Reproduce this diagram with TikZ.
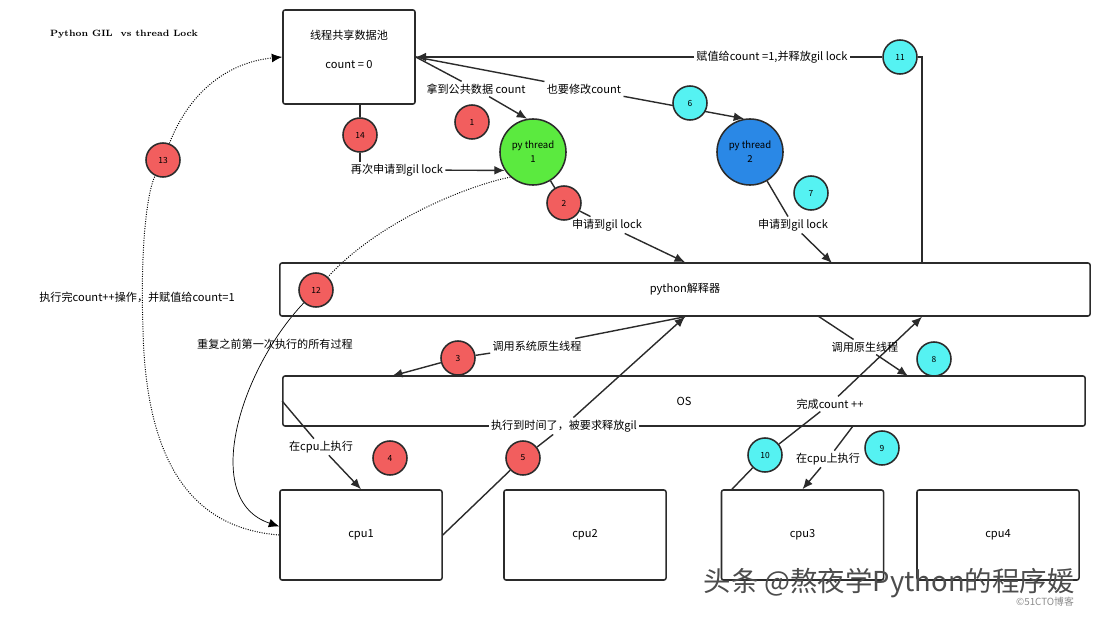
\documentclass[tikz,border=0pt]{standalone}
\usepackage{fontspec}
\newfontfamily\cjk{Noto Sans CJK SC}
\usetikzlibrary{arrows.meta}
\pgfdeclarelayer{back}
\pgfsetlayers{back,main}
\definecolor{stepred}{HTML}{F25E5E}
\definecolor{stepcyan}{HTML}{55F2F2}
\definecolor{thrgreen}{HTML}{5BEA3F}
\definecolor{thrblue}{HTML}{2A88E6}
\definecolor{edge}{HTML}{2B2B2B}

\begin{document}
\begin{tikzpicture}[x=0.025cm,y=-0.025cm,
    font=\cjk\fontsize{7.9}{9}\selectfont,
    box/.style={draw=edge,line width=1.1pt,rounded corners=1.5pt},
    redstep/.style={circle,draw=edge,line width=1.1pt,fill=stepred,minimum size=0.85cm,
      inner sep=0pt,font=\cjk\fontsize{6}{7}\selectfont},
    cyanstep/.style={redstep,fill=stepcyan},
    thread/.style={circle,draw=edge,line width=1.1pt,minimum size=1.65cm,inner sep=0pt,
      align=center,font=\cjk\fontsize{6.8}{10}\selectfont},
    lbl/.style={inner sep=1.5pt},
    ln/.style={line width=1pt,draw=edge},
    arr/.style={ln,-{Latex[length=2.6mm,width=2.2mm]}},
    dotline/.style={line width=0.7pt,densely dotted},
    dotarr/.style={dotline,-{Latex[length=2.6mm,width=2.2mm]}},
    thinarr/.style={line width=0.5pt,-{Latex[length=2.6mm,width=2.2mm]}}]
  \useasboundingbox (0,0) rectangle (1100,618);

  \node[font=\rmfamily\bfseries\fontsize{6.5}{8}\selectfont] (title) at (124,34) {Python GIL\ \ vs thread Lock};

  % boxes
  \node[box,minimum width=3.3cm,minimum height=2.35cm] (pool) at (349,57) {};
  \node (poolname) at (349,35) {线程共享数据池};
  \node (poolcount) at (349,65) {count = 0};
  \node[box,minimum width=20.25cm,minimum height=1.325cm] (interp) at (685,289.5) {python解释器};
  \node[box,minimum width=20.05cm,minimum height=1.25cm] (os) at (684,401) {OS};
  \foreach \i/\x in {1/361,2/585,3/802.5,4/998}
    \node[box,minimum width=4.05cm,minimum height=2.25cm] (cpu\i) at (\x,535) {cpu\i};

  % threads
  \node[thread,fill=thrgreen] (t1) at (533,152) {py thread\\1};
  \node[thread,fill=thrblue] (t2) at (750,152) {py thread\\2};

  % numbered steps
  \foreach \n/\x/\y in {1/472/122,2/564/203,3/458/358,4/390/458,5/523/458,12/316/290,13/163/160,14/360/135}
    \node[redstep] (c\n) at (\x,\y) {\n};
  \foreach \n/\x/\y in {6/690/103,7/811/193,8/934/359,9/882/448,10/765/455,11/900/57}
    \node[cyanstep] (c\n) at (\x,\y) {\n};

  % labels
  \node[lbl] (l1) at (476,89) {拿到公共数据 count};
  \node[lbl] (l6) at (584,89) {也要修改count};
  \node[lbl] (l11) at (772,57) {赋值给count =1,并释放gil lock};
  \node[lbl] (l14) at (397,170) {再次申请到gil lock};
  \node[lbl] (l2) at (607,225) {申请到gil lock};
  \node[lbl] (l7) at (793,225) {申请到gil lock};
  \node[lbl] (l12) at (275,344) {重复之前第一次执行的所有过程};
  \node[lbl] (l13) at (137,297) {执行完count++操作，并赋值给count=1};
  \node[lbl] (l3) at (537,346) {调用系统原生线程};
  \node[lbl] (l8) at (865,347) {调用原生线程};
  \node[lbl] (l4) at (321,447) {在cpu上执行};
  \node[lbl,fill=white] (l5) at (564,426) {执行到时间了，被要求释放gil};
  \node[lbl] (l9) at (828,459) {在cpu上执行};
  \node[lbl] (l10) at (830,404) {完成count ++};

  \coordinate (k11) at (922,57);
  \coordinate (p3) at (392,376);
  \coordinate (p7) at (832,263);
  \coordinate (p8a) at (818,316);
  \coordinate (p8b) at (908,376);
  \coordinate (p9) at (853,426);
  \coordinate (bend13) at (143,330);

  % connectors
  \begin{pgfonlayer}{back}
    \draw[ln] (pool.east) -- (l1);
    \draw[arr] (l1) -- (t1.100);
    \draw[ln] (pool.east) -- (l6);
    \draw[arr] (l6) -- (t2.100);
    \draw[ln] (interp.north -| k11) -- (k11) -- (c11);
    \draw[ln] (c11) -- (l11);
    \draw[arr] (l11) -- (pool.east);
    \draw[ln] (c14) -- (c14 |- pool.south);
    \draw[ln] (c14) -- (c14 |- l14.north);
    \draw[arr] (l14) -- (t1.213);
    \draw[ln] (t1) -- (c2) -- (l2);
    \draw[arr] (l2) -- (interp.north);
    \draw[ln] (t2) -- (l7);
    \draw[arr] (l7) -- (p7);
    \draw[ln] (interp.south) -- (l3);
    \draw[ln] (l3) -- (c3);
    \draw[arr] (c3) -- (p3);
    \draw[ln] (p8a) -- (l8);
    \draw[arr] (l8) -- (p8b);
    \draw[ln] (os.west) -- (l4);
    \draw[arr] (l4) -- (cpu1.north);
    \draw[ln] (cpu1.east) -- (c5) -- (l5);
    \draw[arr] (l5) -- (interp.south);
    \draw[ln] (cpu3.147) -- (c10) -- (l10);
    \draw[arr] (l10) -- (interp.south -| k11);
    \draw[ln] (p9) -- (l9);
    \draw[arr] (l9) -- (cpu3.north);
    \draw[dotline] (t1.228) .. controls (470,185) and (380,220) .. (c12);
    \draw[thinarr] (c12) .. controls (240,370) and (200,500) .. (cpu1.174);
    \draw[dotline] (cpu1.west) .. controls (190,528) and (146,460) .. (bend13)
      .. controls (140,240) and (148,190) .. (c13);
    \draw[dotarr] (c13) .. controls (190,90) and (230,62) .. (pool.west);
  \end{pgfonlayer}

  \node[font=\cjk\fontsize{19.5}{21}\selectfont,text=black!70] (mark) at (889,583) {头条 @熬夜学Python的程序媛};
  \node[font=\cjk\fontsize{7}{8}\selectfont,text=black!45] (site) at (1045,602) {©51CTO博客};
\end{tikzpicture}
\end{document}
